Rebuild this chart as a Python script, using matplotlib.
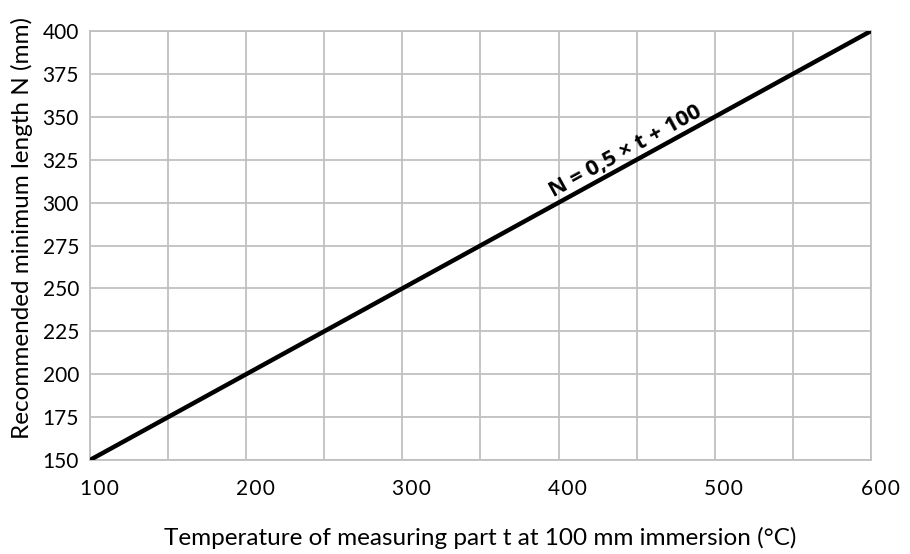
import numpy as np
import matplotlib
matplotlib.use('Agg')
import matplotlib.pyplot as plt
import matplotlib.transforms as mtransforms

plt.rcParams['font.family'] = ['Lato', 'DejaVu Sans']

# Data
temperature = [100, 600]
length_n = [150, 400]
x_ticks = [100, 150, 200, 250, 300, 350, 400, 450, 500, 550, 600]
x_tick_labels = ['100', '', '200', '', '300', '', '400', '', '500', '', '600']
y_ticks = [150, 175, 200, 225, 250, 275, 300, 325, 350, 375, 400]
formula_label = 'N = 0,5 × t + 100'

grid_color = '#c0c0c0'

fig = plt.figure(figsize=(9.1, 5.54), dpi=100)
ax = fig.add_axes([90 / 910, 1 - 460 / 554, 781 / 910, 429 / 554])

ax.plot(temperature, length_n, color='black', linewidth=3.2, solid_capstyle='butt', zorder=3)

ax.set_xlim(100, 600)
ax.set_ylim(150, 400)
ax.set_xticks(x_ticks)
# spaced digits, like the letter spacing of the original
ax.set_xticklabels(['\u200a'.join(lbl) for lbl in x_tick_labels], fontsize=15)
ax.set_yticks(y_ticks)
ax.set_yticklabels([str(v) for v in y_ticks], fontsize=15)
ax.tick_params(axis='both', length=0, colors='black')
ax.tick_params(axis='x', pad=14)
ax.tick_params(axis='y', pad=8)

# shift x tick labels slightly to the right
offset = mtransforms.ScaledTranslation(9 / 100, 0, fig.dpi_scale_trans)
for lbl in ax.get_xticklabels():
    lbl.set_transform(lbl.get_transform() + offset)

ax.grid(True, color=grid_color, linewidth=1.3)
ax.set_axisbelow(True)
for sp in ax.spines.values():
    sp.set_color(grid_color)
    sp.set_linewidth(1.3)

ax.set_xlabel('Temperature of measuring part t at 100 mm immersion (°C)', fontsize=17.5, va='center')
ax.xaxis.set_label_coords((480 - 90) / 781, -(538 - 460) / 429)
ax.set_ylabel('Recommended minimum length N (mm)', fontsize=17.5, va='center')
ax.yaxis.set_label_coords(-(90 - 22) / 781, (460 - 228) / 429)

# formula along the line, sitting just above it
lift = mtransforms.ScaledTranslation(-1.5 / 100, 2.0 / 100, fig.dpi_scale_trans)
ax.text(447, 323.5, formula_label, fontsize=16, fontweight='bold',
        family=['Open Sans', 'DejaVu Sans'],
        transform=ax.transData + lift,
        rotation=np.degrees(np.arctan(0.5)), transform_rotates_text=True,
        rotation_mode='anchor', ha='center', va='bottom', zorder=4)

fig.savefig('out.png', dpi=100)
